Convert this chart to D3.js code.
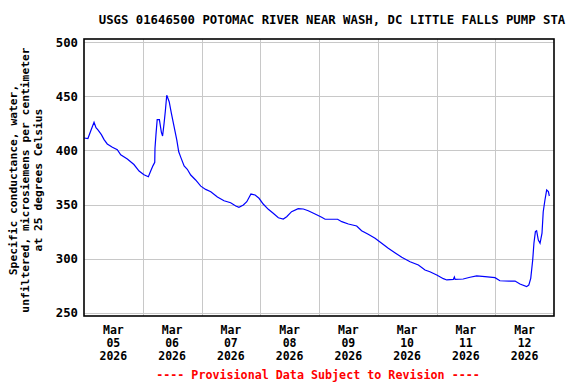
<!DOCTYPE html>
<html>
<head>
<meta charset="utf-8">
<script src="https://cdn.jsdelivr.net/npm/d3@7"></script>
<style>
  body { margin: 0; background: #fff; }
  text { font-family: "DejaVu Sans Mono", monospace; font-weight: bold; }
</style>
</head>
<body>
<script>
// Hours after Mar 05 2026 00:00 and specific conductance readings
var hours = [0, 1.6, 2.7, 4.1, 4.9, 5.7, 7.1, 8.2, 9.5, 11.6, 13.6, 15.0, 17.7, 20.4, 22.5,
  24.5, 26.3, 27.2, 28.2, 28.9, 29.0, 29.4, 29.9, 30.8, 31.6, 32.1, 32.7, 33.2, 33.8, 34.3,
  34.8, 35.7, 36.8, 37.9, 38.7, 39.7, 40.9, 42.2, 43.6, 45.6, 47.7, 49.7, 51.8, 54.5, 57.2,
  59.9, 62.0, 63.3, 65.1, 66.5, 68.2, 69.9, 71.5, 73.2, 75.3, 77.3, 79.4, 81.4, 82.8, 84.8,
  87.5, 89.6, 91.6, 94.4, 97.1, 98.5, 103.6, 105.3, 108.0, 111.4, 113.4, 116.1, 118.9, 121.6,
  124.3, 127.0, 129.8, 133.2, 136.6, 139.3, 141.3, 144.1, 146.8, 148.2, 150.9, 151.3, 151.6,
  154.9, 157.7, 160.4, 163.8, 167.9, 169.9, 174.0, 176.1, 178.1, 180.8, 181.7, 182.5, 183.3,
  183.8, 184.4, 184.9, 185.6, 186.3, 187.1, 187.6, 188.3, 189.0, 189.7, 190.1];
var values = [411.5, 411, 417.7, 426, 421, 419, 414.6, 410, 406, 403, 400.7, 396, 392, 387, 381,
  377.6, 375.7, 380.7, 386, 389, 402, 414.6, 428.4, 428.4, 417, 413.4, 424.8, 435.8, 451, 448,
  445, 434.3, 422, 409.7, 398.8, 392.7, 385.6, 382.6, 377.3, 372.7, 367, 364, 361.9, 357, 353.5,
  351.7, 348.7, 347.5, 349.6, 352.6, 359.7, 358.8, 355.8, 350.5, 345.6, 341.9, 337.8, 336.6, 338.8, 343.4,
  346.2, 345.9, 344.3, 341.3, 338.2, 336.4, 336.4, 334.2, 332, 330.2, 325.8, 322.5, 318.8, 314.2,
  309.6, 305.5, 301.3, 297.2, 294.1, 289.5, 287.9, 284.9, 281.5, 280.3, 280.9, 283, 280.9,
  281.2, 282.8, 284, 283.3, 282.4, 279.6, 279.3, 279.3, 276.6, 274.1, 275.6, 281.8, 298.7,
  314.2, 325, 325.8, 317.2, 314.2, 323.5, 343.4, 354.2, 363.4, 361.9, 357.9];
var yTicks = [250, 300, 350, 400, 450, 500];
var dayLabels = ["05", "06", "07", "08", "09", "10", "11", "12"];

var width = 576, height = 384;
var plot = { left: 84, top: 39, right: 554, bottom: 316 };

var start = new Date(2026, 2, 5);
function hoursToDate(h) { return new Date(start.getTime() + h * 3600 * 1000); }
var data = hours.map(function (h, i) { return { t: hoursToDate(h), v: values[i] }; });

var svg = d3.select("body")
  .append("svg")
  .attr("width", width)
  .attr("height", height);

var xScale = d3.scaleTime()
  .domain([start, new Date(2026, 2, 13)])
  .range([plot.left, plot.right]);

var yScale = d3.scaleLinear()
  .domain([247, 503])
  .range([plot.bottom, plot.top]);

// grid lines
var midnights = d3.range(1, 8).map(function (d) { return new Date(2026, 2, 5 + d); });
svg.append("g")
  .selectAll("line.vgrid")
  .data(midnights)
  .enter().append("line")
  .attr("x1", function (d) { return Math.round(xScale(d)) + 0.5; })
  .attr("x2", function (d) { return Math.round(xScale(d)) + 0.5; })
  .attr("y1", plot.top)
  .attr("y2", plot.bottom)
  .attr("stroke", "#c8c8c8")
  .attr("stroke-width", 1);

svg.append("g")
  .selectAll("line.hgrid")
  .data(yTicks)
  .enter().append("line")
  .attr("x1", plot.left)
  .attr("x2", plot.right)
  .attr("y1", function (d) { return Math.round(yScale(d)) + 0.5; })
  .attr("y2", function (d) { return Math.round(yScale(d)) + 0.5; })
  .attr("stroke", "#c8c8c8")
  .attr("stroke-width", 1);

// data line
var line = d3.line()
  .x(function (d) { return xScale(d.t); })
  .y(function (d) { return yScale(d.v); });

svg.append("path")
  .datum(data)
  .attr("d", line)
  .attr("fill", "none")
  .attr("stroke", "#0000ff")
  .attr("stroke-width", 1.2)
  .attr("stroke-linejoin", "miter");

// frame
svg.append("rect")
  .attr("x", plot.left)
  .attr("y", plot.top)
  .attr("width", plot.right - plot.left)
  .attr("height", plot.bottom - plot.top)
  .attr("fill", "none")
  .attr("stroke", "#000")
  .attr("stroke-width", 1.6);

// y axis labels
var yAxis = d3.axisLeft(yScale)
  .tickValues(yTicks)
  .tickSize(0)
  .tickPadding(6);
var gy = svg.append("g")
  .attr("transform", "translate(" + plot.left + ",0)")
  .call(yAxis);
gy.select(".domain").remove();
gy.selectAll("text")
  .attr("font-family", "DejaVu Sans Mono")
  .attr("font-weight", "bold")
  .attr("font-size", "12.3px")
  .attr("fill", "#000");

// x axis labels (at noon of each day)
var noons = dayLabels.map(function (d, i) { return new Date(2026, 2, 5 + i, 12); });
var xlab = svg.append("g")
  .selectAll("text.xl")
  .data(noons)
  .enter().append("text")
  .attr("x", function (d) { return xScale(d); })
  .attr("y", 334)
  .attr("text-anchor", "middle")
  .attr("font-size", "11.5px")
  .attr("fill", "#000");
xlab.append("tspan").attr("x", function (d) { return xScale(d); }).attr("dy", 0).text("Mar");
xlab.append("tspan").attr("x", function (d) { return xScale(d); }).attr("dy", 13)
  .text(function (d, i) { return dayLabels[i]; });
xlab.append("tspan").attr("x", function (d) { return xScale(d); }).attr("dy", 13).text("2026");

// y axis title
var ytitle = ["Specific conductance, water,", "unfiltered, microsiemens per centimeter", "at 25 degrees Celsius"];
svg.append("g")
  .selectAll("text.yt")
  .data(ytitle)
  .enter().append("text")
  .attr("transform", function (d, i) { return "translate(" + (13 + i * 12.5) + ",180) rotate(-90)"; })
  .attr("text-anchor", "middle")
  .attr("dominant-baseline", "central")
  .attr("font-size", "11.3px")
  .attr("fill", "#000")
  .text(function (d) { return d; });

// title
svg.append("text")
  .attr("x", 332)
  .attr("y", 24)
  .attr("text-anchor", "middle")
  .attr("font-size", "12.3px")
  .attr("fill", "#000")
  .text("USGS 01646500 POTOMAC RIVER NEAR WASH, DC LITTLE FALLS PUMP STA");

// footer
svg.append("text")
  .attr("x", 318)
  .attr("y", 379)
  .attr("text-anchor", "middle")
  .attr("font-size", "11.7px")
  .attr("fill", "#ff0000")
  .text("---- Provisional Data Subject to Revision ----");
</script>
</body>
</html>
